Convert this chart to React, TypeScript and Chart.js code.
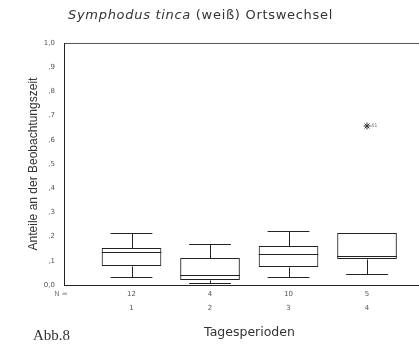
import React, { useEffect, useRef } from 'react';
import { Chart, registerables } from 'chart.js';

Chart.register(...registerables);

// ---- data ----
const categories = ['1', '2', '3', '4'];
const nCounts = ['12', '4', '10', '5'];
const whiskerLow = [0.033, 0.008, 0.033, 0.045];
const q1 = [0.079, 0.021, 0.074, 0.107];
const median = [0.136, 0.041, 0.128, 0.12];
const q3 = [0.153, 0.112, 0.161, 0.215];
const whiskerHigh = [0.215, 0.169, 0.223, 0.215];
const outlierCategory = [4];
const outlierValue = [0.657];
const outlierLabel = ['41'];
const yTickValues = [0, 0.1, 0.2, 0.3, 0.4, 0.5, 0.6, 0.7, 0.8, 0.9, 1.0];
const yTickLabels = ['0,0', ',1', ',2', ',3', ',4', ',5', ',6', ',7', ',8', ',9', '1,0'];

const LINE = '#222';
const TICK_FONT = { family: 'DejaVu Sans', size: 7 };

const boxPlugin = {
  id: 'boxWhiskers',
  afterDatasetsDraw(chart: any) {
    const { ctx, chartArea } = chart;
    const ys = chart.scales.y;
    const xs = chart.scales.x;
    const meta = chart.getDatasetMeta(0);
    const py = (v: number) => Math.round(ys.getPixelForValue(v)) + 0.5;
    ctx.save();
    ctx.strokeStyle = LINE;
    ctx.lineWidth = 1;
    meta.data.forEach((bar: any, i: number) => {
      const { x, width } = bar.getProps(['x', 'width'], true);
      const half = width / 2;
      const cap = width * 0.35;
      const cx = Math.round(x) + 0.5;
      ctx.beginPath();
      ctx.moveTo(x - half, py(median[i]));
      ctx.lineTo(x + half, py(median[i]));
      if (whiskerHigh[i] > q3[i]) {
        ctx.moveTo(cx, py(q3[i]));
        ctx.lineTo(cx, py(whiskerHigh[i]));
        ctx.moveTo(x - cap, py(whiskerHigh[i]));
        ctx.lineTo(x + cap, py(whiskerHigh[i]));
      }
      if (whiskerLow[i] < q1[i]) {
        ctx.moveTo(cx, py(q1[i]));
        ctx.lineTo(cx, py(whiskerLow[i]));
        ctx.moveTo(x - cap, py(whiskerLow[i]));
        ctx.lineTo(x + cap, py(whiskerLow[i]));
      }
      ctx.stroke();
    });
    // "N =" row label
    ctx.fillStyle = '#777';
    ctx.font = '7px "DejaVu Sans"';
    ctx.textAlign = 'center';
    ctx.textBaseline = 'middle';
    ctx.fillText('N =', chartArea.left - 3, chartArea.bottom + 9);
    // outlier case labels
    ctx.font = '5px "DejaVu Sans"';
    ctx.textAlign = 'left';
    outlierCategory.forEach((c, i) => {
      ctx.fillText(outlierLabel[i], xs.getPixelForValue(c) + 4, ys.getPixelForValue(outlierValue[i]));
    });
    ctx.restore();
  },
};

export default function App() {
  const ref = useRef<HTMLCanvasElement>(null);

  useEffect(() => {
    if (!ref.current) return;
    const chart = new Chart(ref.current, {
      type: 'bar',
      data: {
        datasets: [
          {
            type: 'bar',
            data: categories.map((_, i) => ({ x: i + 1, y: [q1[i], q3[i]] })) as any,
            backgroundColor: 'rgba(255,255,255,0)',
            borderColor: LINE,
            borderWidth: 1,
            borderSkipped: false,
            categoryPercentage: 0.76,
            barPercentage: 1,
          } as any,
          {
            type: 'scatter',
            data: outlierCategory.map((c, i) => ({ x: c, y: outlierValue[i] })),
            pointStyle: 'star',
            radius: 3.5,
            borderColor: '#333',
            borderWidth: 1,
            backgroundColor: '#333',
          } as any,
        ],
      },
      options: {
        animation: false,
        responsive: true,
        maintainAspectRatio: false,
        layout: { padding: { top: 43, left: 0, right: 0, bottom: 0 } },
        plugins: { legend: { display: false }, tooltip: { enabled: false }, title: { display: false } },
        scales: {
          x: {
            type: 'linear',
            offset: false,
            min: 0.14,
            max: 4.866,
            afterBuildTicks: (s: any) => {
              s.ticks = categories.map((_, i) => ({ value: i + 1 }));
            },
            afterFit: (s: any) => {
              s.height = 72;
            },
            grid: { display: false, drawTicks: false, offset: false },
            border: { display: true, color: LINE, width: 1 },
            ticks: {
              autoSkip: false,
              maxRotation: 0,
              padding: 2,
              color: '#555',
              font: { ...TICK_FONT, lineHeight: 2 },
              callback: (_v: any, i: number) => [nCounts[i], categories[i]],
            },
            title: {
              display: true,
              text: 'Tagesperioden',
              color: '#333',
              font: { family: 'DejaVu Sans', size: 12.5, lineHeight: 1.2 },
              padding: { top: 0, bottom: 17 },
            },
          },
          y: {
            type: 'linear',
            min: 0,
            max: 1,
            afterBuildTicks: (s: any) => {
              s.ticks = yTickValues.map((v) => ({ value: v }));
            },
            afterFit: (s: any) => {
              s.width = 64;
            },
            grid: {
              display: true,
              drawTicks: false,
              color: (c: any) => (c.tick && c.tick.value === 1 ? '#555' : 'rgba(0,0,0,0)'),
            },
            border: { display: true, color: LINE, width: 1 },
            ticks: {
              padding: 9,
              color: '#555',
              font: TICK_FONT,
              callback: (_v: any, i: number) => yTickLabels[i],
            },
            title: {
              display: true,
              text: 'Anteile an der Beobachtungszeit',
              color: '#333',
              font: { family: 'Liberation Sans', size: 12, lineHeight: 1.2 },
              padding: { top: 26, bottom: 0 },
            },
          },
        },
      },
      plugins: [boxPlugin],
    } as any);
    return () => chart.destroy();
  }, []);

  return (
    <div style={{ position: 'absolute', left: 0, top: 0, width: 419, height: 357, background: '#fff', overflow: 'hidden' }}>
      <div style={{ position: 'absolute', left: 0, top: 0, width: 440, height: 357 }}>
        <canvas ref={ref} />
      </div>
      <div
        style={{
          position: 'absolute',
          left: 68,
          top: 6,
          fontFamily: '"DejaVu Sans"',
          fontSize: 13,
          letterSpacing: '0.7px',
          lineHeight: '18px',
          color: '#333',
          whiteSpace: 'nowrap',
        }}
      >
        <i>Symphodus tinca</i> (weiß) Ortswechsel
      </div>
      <div
        style={{
          position: 'absolute',
          left: 33,
          top: 326,
          fontFamily: '"Liberation Serif"',
          fontSize: 15,
          lineHeight: '18px',
          color: '#333',
          whiteSpace: 'nowrap',
        }}
      >
        Abb.8
      </div>
    </div>
  );
}
